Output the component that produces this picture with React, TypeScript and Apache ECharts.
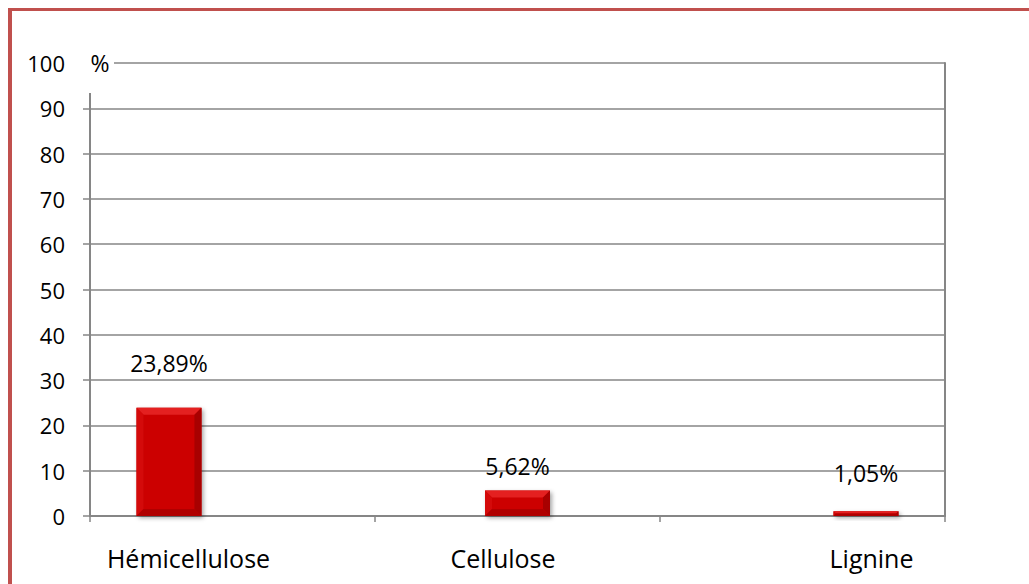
import React, { useEffect, useRef } from "react";
import * as echarts from "echarts";

// Composition of the sample (mass %)
const categories = ["Hémicellulose", "Cellulose", "Lignine"];
const values = [23.89, 5.62, 1.05];
const yTicks = [0, 10, 20, 30, 40, 50, 60, 70, 80, 90, 100];

const FONT = "'Open Sans', 'Noto Sans', sans-serif";
const GRID_COLOR = "#868686";
const FRAME_COLOR = "#C0504D";

const fmtPct = (v: number) => v.toFixed(2).replace(".", ",") + "%";

export default function App() {
  const ref = useRef<HTMLDivElement>(null);

  useEffect(() => {
    document.body.style.margin = "0";
    document.body.style.overflow = "hidden";
    if (!ref.current) return;
    const chart = echarts.init(ref.current, undefined, { renderer: "svg" });

    // horizontal nudges of the category captions and heights of the value labels
    const captionShift = [-44, -14.5, 69];
    const labelLift = [45, 25, 38];
    const barRatio = 0.1865;

    const rich: Record<string, any> = {};
    categories.forEach((_, i) => {
      const s = captionShift[i];
      rich["c" + i] = {
        fontFamily: FONT,
        fontSize: 25,
        color: "#000",
        padding: s < 0 ? [0, -2 * s, 0, 0] : [0, 0, 0, 2 * s],
      };
    });

    chart.setOption({
      animation: false,
      backgroundColor: "#ffffff",
      grid: { left: 90, right: 84, top: 63, bottom: 68 },
      xAxis: [
        {
          type: "category",
          data: categories,
          boundaryGap: true,
          axisLine: {
            show: true,
            onZero: false,
            lineStyle: { color: GRID_COLOR, width: 2 },
          },
          axisTick: {
            show: true,
            alignWithLabel: false,
            length: 6,
            lineStyle: { color: GRID_COLOR, width: 1.5 },
          },
          axisLabel: {
            margin: 29,
            formatter: (v: string) => `{c${categories.indexOf(v)}|${v}}`,
            rich,
          },
          splitLine: { show: false },
        },
        {
          type: "value",
          min: -0.2267,
          max: 2.2267,
          show: false,
        },
      ],
      yAxis: [
        {
          type: "value",
          min: yTicks[0],
          max: yTicks[yTicks.length - 1],
          interval: 10,
          axisLine: {
            show: true,
            onZero: false,
            lineStyle: { color: GRID_COLOR, width: 2 },
          },
          axisTick: {
            show: true,
            length: 7,
            lineStyle: { color: GRID_COLOR, width: 1.5 },
          },
          axisLabel: {
            margin: 25,
            fontFamily: FONT,
            fontSize: 22,
            color: "#000",
          },
          splitLine: {
            show: true,
            lineStyle: { color: GRID_COLOR, width: 1.5 },
          },
        },
        {
          type: "value",
          position: "right",
          min: yTicks[0],
          max: yTicks[yTicks.length - 1],
          interval: 10,
          axisLine: {
            show: true,
            onZero: false,
            lineStyle: { color: GRID_COLOR, width: 2 },
          },
          axisTick: { show: false },
          axisLabel: { show: false },
          splitLine: { show: false },
        },
      ],
      series: [
        {
          type: "custom",
          xAxisIndex: 1,
          yAxisIndex: 0,
          data: values.map((v, i) => [i, v]),
          renderItem: (params: any, api: any) => {
            const idx = params.dataIndex;
            const x = api.value(0);
            const v = api.value(1);
            const top = api.coord([x, v]);
            const base = api.coord([x, 0]);
            const w = api.size([1, 0])[0] * barRatio;
            const l = top[0] - w / 2;
            const r = top[0] + w / 2;
            const t = top[1];
            const b = base[1];
            const h = b - t;
            const bv = Math.max(0, Math.min(7, h / 2, w / 2));
            return {
              type: "group",
              children: [
                {
                  type: "rect",
                  shape: { x: l, y: t, width: w, height: h },
                  style: {
                    fill: "#C00000",
                    shadowColor: "rgba(0,0,0,0.35)",
                    shadowBlur: 4,
                    shadowOffsetX: 2,
                    shadowOffsetY: 2,
                  },
                },
                {
                  type: "rect",
                  shape: { x: l + bv, y: t + bv, width: w - 2 * bv, height: Math.max(0, h - 2 * bv) },
                  style: { fill: "#CC0000" },
                },
                {
                  type: "polygon",
                  shape: { points: [[l, t], [r, t], [r - bv, t + bv], [l + bv, t + bv]] },
                  style: { fill: "#E42020" },
                },
                {
                  type: "polygon",
                  shape: { points: [[l, t], [l + bv, t + bv], [l + bv, b - bv], [l, b]] },
                  style: { fill: "#D40A0A" },
                },
                {
                  type: "polygon",
                  shape: { points: [[r, t], [r, b], [r - bv, b - bv], [r - bv, t + bv]] },
                  style: { fill: "#A80000" },
                },
                {
                  type: "polygon",
                  shape: { points: [[l, b], [l + bv, b - bv], [r - bv, b - bv], [r, b]] },
                  style: { fill: "#B00000" },
                },
                {
                  type: "text",
                  style: {
                    text: fmtPct(v),
                    x: top[0],
                    y: t - labelLift[idx],
                    align: "center",
                    verticalAlign: "middle",
                    fontFamily: FONT,
                    fontSize: 23,
                    fill: "#000",
                  },
                },
              ],
            };
          },
        },
      ],
      graphic: [
        // unit caption above the value axis
        {
          type: "rect",
          z: 100,
          shape: { x: 70, y: 48, width: 44, height: 45 },
          style: { fill: "#ffffff" },
        },
        {
          type: "text",
          z: 101,
          x: 100,
          y: 63,
          style: {
            text: "%",
            align: "center",
            verticalAlign: "middle",
            fontFamily: FONT,
            fontSize: 23,
            fill: "#000",
          },
        },
        // frame around the figure
        {
          type: "rect",
          z: 100,
          shape: { x: 8, y: 8, width: 1021, height: 3 },
          style: { fill: FRAME_COLOR },
        },
        {
          type: "rect",
          z: 100,
          shape: { x: 8, y: 8, width: 4, height: 576 },
          style: { fill: FRAME_COLOR },
        },
      ],
    });

    return () => chart.dispose();
  }, []);

  return <div ref={ref} style={{ width: 1029, height: 584 }} />;
}
